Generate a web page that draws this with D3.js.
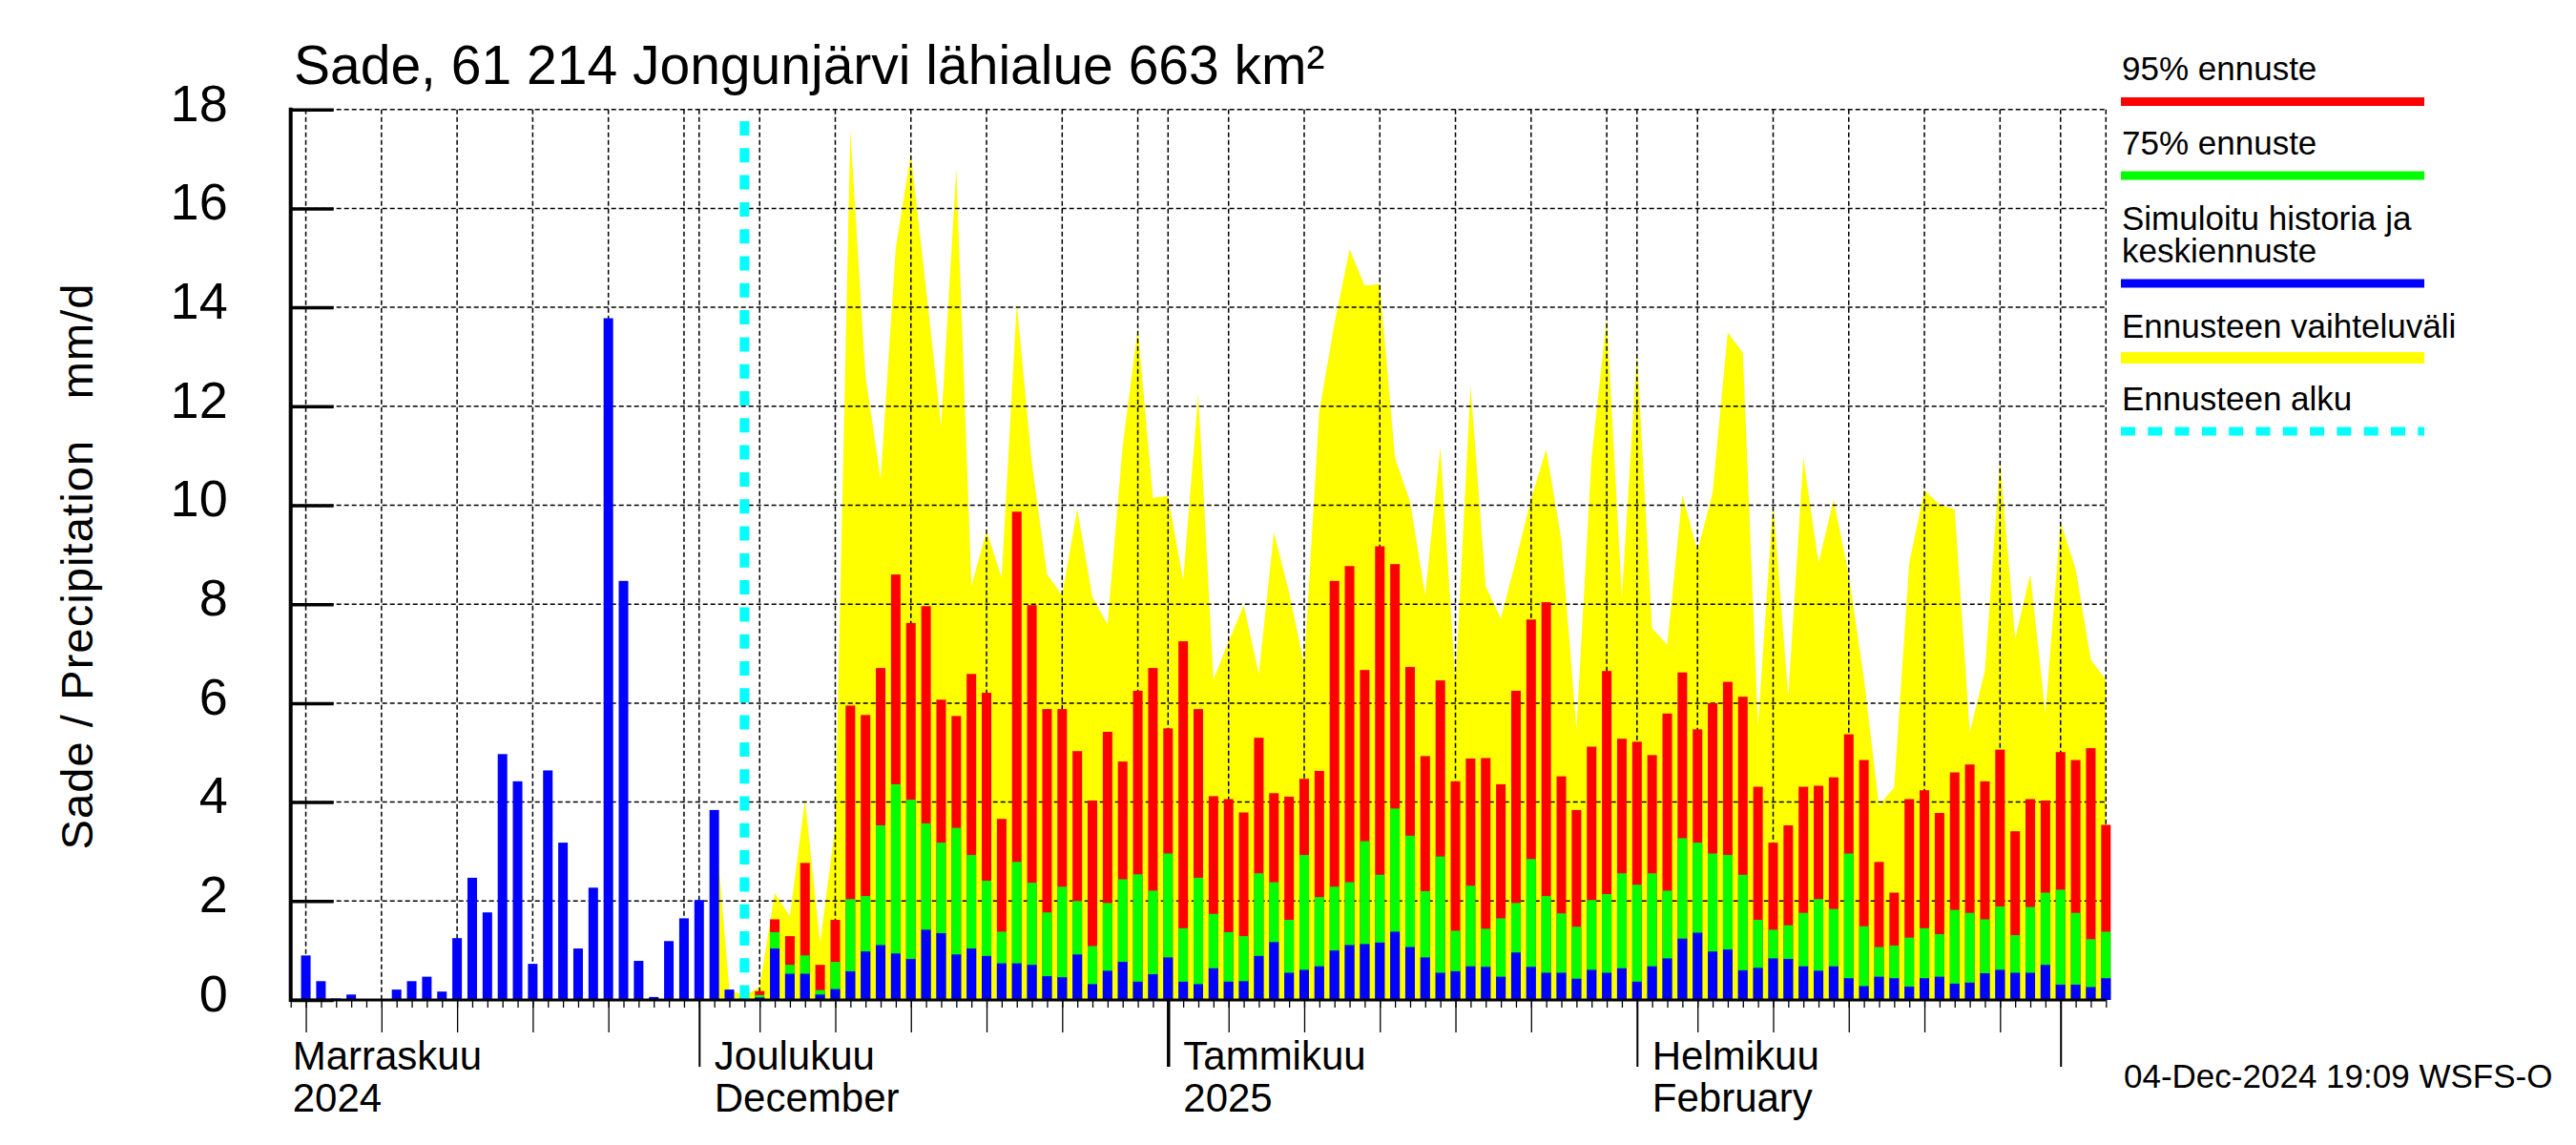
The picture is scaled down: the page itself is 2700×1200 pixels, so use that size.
<!DOCTYPE html>
<html>
<head>
<meta charset="utf-8">
<script src="https://cdn.jsdelivr.net/npm/d3@7"></script>
<style>
  body { margin: 0; background: #fff; }
  text { font-family: "Liberation Sans", Arial, Helvetica, sans-serif; fill: #000; }
</style>
</head>
<body>
<svg id="chart" width="2700" height="1200"></svg>
<script>
// observed (simulated history), one value per day from Nov 5
const histStart = "2024-11-05";
const histValues = [0.90, 0.38, 0.03, 0.11, 0, 0, 0.21, 0.38, 0.47, 0.17, 1.25, 2.47, 1.77, 4.97, 4.42,
    0.73, 4.64, 3.18, 1.04, 2.27, 13.78, 8.47, 0.79, 0.06, 1.19, 1.65, 2.02, 3.84, 0.21, 0.05];

// forecast, one value per day from Dec 5 to Mar 4
const fcStart = "2024-12-05";
const p95 = [].concat(
    [0.18, 1.63, 1.29, 2.77, 0.71, 1.62, 5.95, 5.76, 6.71, 8.60, 7.62, 7.96, 6.07, 5.74, 6.59, 6.21, 3.66, 9.87, 7.98, 5.88, 5.88, 5.03, 4.03, 5.42, 4.82, 6.25, 6.71],
    [5.49, 7.25, 5.88, 4.12, 4.06, 3.79, 5.30, 4.18, 4.11, 4.47, 4.63, 8.47, 8.77, 6.67, 9.17, 8.81, 6.73, 4.93, 6.46, 4.42, 4.88, 4.89, 4.36, 6.25, 7.69, 8.04, 4.52, 3.84, 5.12, 6.65, 5.28],
    [5.22, 4.95, 5.79, 6.62, 5.47, 6.00, 6.43, 6.13, 4.31, 3.18, 3.53, 4.31, 4.33, 4.50, 5.37, 4.85, 2.79, 2.17, 4.06, 4.24, 3.78, 4.60, 4.76, 4.42, 5.06, 3.41, 4.06, 4.03],
    [5.01, 4.85, 5.09, 3.54]);
const p75 = [].concat(
    [0.10, 1.37, 0.71, 0.90, 0.20, 0.77, 2.04, 2.10, 3.53, 4.36, 4.05, 3.57, 3.18, 3.48, 2.93, 2.41, 1.38, 2.79, 2.37, 1.77, 2.29, 2.00, 1.09, 1.96, 2.44, 2.54, 2.21],
    [2.96, 1.45, 2.47, 1.74, 1.37, 1.29, 2.56, 2.38, 1.62, 2.93, 2.08, 2.29, 2.38, 3.21, 2.53, 3.87, 3.32, 2.20, 2.90, 1.40, 2.31, 1.44, 1.65, 1.96, 2.85, 2.10, 1.75, 1.48, 2.02, 2.14, 2.56],
    [2.33, 2.56, 2.21, 3.27, 3.18, 2.96, 2.93, 2.53, 1.62, 1.42, 1.51, 1.76, 2.04, 1.84, 2.96, 1.49, 1.07, 1.10, 1.26, 1.45, 1.33, 1.82, 1.76, 1.63, 1.89, 1.31, 1.88, 2.17],
    [2.23, 1.76, 1.23, 1.38]);
const median = [].concat(
    [0.05, 1.04, 0.53, 0.53, 0.11, 0.22, 0.58, 0.98, 1.11, 0.94, 0.83, 1.42, 1.35, 0.92, 1.04, 0.89, 0.74, 0.74, 0.71, 0.48, 0.46, 0.92, 0.32, 0.59, 0.77, 0.37, 0.52],
    [0.86, 0.37, 0.32, 0.64, 0.37, 0.38, 0.89, 1.17, 0.55, 0.61, 0.68, 1.00, 1.11, 1.13, 1.16, 1.38, 1.07, 0.86, 0.55, 0.58, 0.68, 0.67, 0.47, 0.96, 0.67, 0.55, 0.55, 0.43, 0.61, 0.55, 0.64],
    [0.37, 0.68, 0.84, 1.24, 1.36, 0.98, 1.02, 0.60, 0.65, 0.84, 0.83, 0.68, 0.59, 0.68, 0.44, 0.28, 0.47, 0.44, 0.27, 0.44, 0.47, 0.33, 0.35, 0.54, 0.61, 0.55, 0.55, 0.71],
    [0.31, 0.31, 0.26, 0.44]);

// upper edge of the forecast range, from Dec 2
const rangeStart = "2024-12-02";
const rangeMax = [].concat(
    [3.84, 0.21, 0.08],
    [0.26, 2.16, 1.69, 4.05, 1.16, 3.5, 17.57, 12.6, 10.52, 15.2, 17.10, 14.38, 11.6, 16.8, 8.36, 9.48, 8.54, 14.08, 10.84, 8.6, 8.18, 9.92, 8.15, 7.59, 11.19, 13.58, 10.15],
    [10.19, 8.48, 12.25, 6.47, 7.24, 7.98, 6.59, 9.45, 8.24, 6.77, 11.9, 13.67, 15.17, 14.44, 14.47, 10.96, 10.07, 8.18, 11.17, 6.41, 12.41, 8.36, 7.71, 8.89, 10.13, 11.13, 9.30, 5.47, 10.96, 13.79, 8.15],
    [13.08, 7.51, 7.18, 10.21, 9.07, 10.25, 13.49, 13.08, 5.53, 10.07, 6.12, 10.96, 8.83, 10.11, 8.6, 6.5, 3.93, 4.29, 8.83, 10.31, 10.01, 9.92, 5.41, 6.65, 10.9, 7.3, 8.6, 5.79],
    [9.66, 8.71, 6.88, 6.47]);

const forecastBegin = "2024-12-04";
const yTicks = [0, 2, 4, 6, 8, 10, 12, 14, 16, 18];
const monthStarts = ["2024-11-01", "2024-12-01", "2025-01-01", "2025-02-01"];
const monthFi = ["Marraskuu", "Joulukuu", "Tammikuu", "Helmikuu"];
const monthEn = ["2024", "December", "2025", "February"];
const legendLabels = [["95% ennuste"], ["75% ennuste"], ["Simuloitu historia ja", "keskiennuste"], ["Ennusteen vaihteluväli"], ["Ennusteen alku"]];
const legendColors = ["#ff0000", "#00ff00", "#0000ff", "#ffff00", "#00ffff"];

const parse = d3.utcParse("%Y-%m-%d");
const series = (start, vals) => vals.map((v, i) => ({ date: d3.utcDay.offset(parse(start), i), v: v }));

const hist = series(histStart, histValues);
const fc95 = series(fcStart, p95);
const fc75 = series(fcStart, p75);
const fcMed = series(fcStart, median);
const range = series(rangeStart, rangeMax);

const plotLeft = 304.7, plotRight = 2207.3, plotTop = 114.7, plotBottom = 1048;
const x = d3.scaleUtc()
    .domain([parse("2024-11-04"), parse("2025-03-04")])
    .range([plotLeft, plotRight]);
const y = d3.scaleLinear().domain([0, 18]).range([plotBottom, plotTop]);

const svg = d3.select("#chart");
svg.append("rect").attr("width", 2700).attr("height", 1200).attr("fill", "#fff");

svg.append("defs").append("clipPath").attr("id", "plotclip")
    .append("rect").attr("x", plotLeft).attr("y", 0).attr("width", plotRight - plotLeft).attr("height", plotBottom);

// yellow forecast range
svg.append("path")
    .datum(range)
    .attr("clip-path", "url(#plotclip)")
    .attr("fill", "#ffff00")
    .attr("d", d3.area().x(d => x(d.date)).y0(y(0)).y1(d => y(d.v)));

// dashed grid
const days = d3.utcDay.range(parse("2024-11-04"), parse("2025-03-05"));
const gridDays = days.filter(d => [1, 5, 10, 15, 20, 25, 30].includes(d.getUTCDate()));
gridDays.push(parse("2025-03-04"));

const grid = svg.append("g").attr("stroke", "#000").attr("stroke-width", 1.5).attr("stroke-dasharray", "5,3");
grid.selectAll("line.v").data(gridDays).enter().append("line")
    .attr("x1", d => x(d)).attr("x2", d => x(d))
    .attr("y1", plotTop).attr("y2", plotBottom);
grid.selectAll("line.h").data(yTicks.filter(t => t > 0)).enter().append("line")
    .attr("x1", plotLeft).attr("x2", plotRight)
    .attr("y1", d => y(d)).attr("y2", d => y(d));

// bars
const barW = 10;
function bars(data, color) {
    svg.append("g").selectAll("rect").data(data.filter(d => d.v > 0)).enter().append("rect")
        .attr("x", d => x(d.date) - barW / 2)
        .attr("width", barW)
        .attr("y", d => y(d.v))
        .attr("height", d => y(0) - y(d.v))
        .attr("fill", color);
}
bars(hist, "#0000ff");
bars(fc95, "#ff0000");
bars(fc75, "#00ff00");
bars(fcMed, "#0000ff");

// forecast start
svg.append("line")
    .attr("x1", x(parse(forecastBegin))).attr("x2", x(parse(forecastBegin)))
    .attr("y1", 127).attr("y2", plotBottom)
    .attr("stroke", "#00ffff").attr("stroke-width", 10).attr("stroke-dasharray", "15,13.3");

// y axis, ticks pointing into the plot
const yAxis = d3.axisLeft(y).tickValues(yTicks).tickSizeInner(-45).tickSizeOuter(0).tickPadding(66);
const gy = svg.append("g").attr("transform", `translate(${plotLeft},0)`).call(yAxis);
gy.select(".domain").remove();
gy.selectAll(".tick line").attr("stroke", "#000").attr("stroke-width", 3.5);
gy.selectAll(".tick text")
    .attr("font-size", 54)
    .attr("dy", "0.21em")
    .style("font-family", "'Liberation Sans', Arial, sans-serif");

svg.append("line").attr("x1", plotLeft).attr("x2", plotLeft).attr("y1", plotTop - 2).attr("y2", plotBottom + 2)
    .attr("stroke", "#000").attr("stroke-width", 4);

// x axis ticks: days, every fifth day, months
function xTicks(values, size, width) {
    const g = svg.append("g").attr("transform", `translate(0,${plotBottom})`)
        .call(d3.axisBottom(x).tickValues(values).tickSize(size).tickFormat(""));
    g.select(".domain").remove();
    g.selectAll(".tick line").attr("stroke", "#000").attr("stroke-width", width);
}
xTicks(days, 8, 1.3);
xTicks(days.filter(d => [5, 10, 15, 20, 25].includes(d.getUTCDate())), 34, 1.3);
xTicks(days.filter(d => d.getUTCDate() === 1 && d.getUTCMonth() !== 0), 70, 2);
xTicks(days.filter(d => d.getUTCDate() === 1 && d.getUTCMonth() === 0), 70, 3.5);

svg.append("line").attr("x1", plotLeft).attr("x2", plotRight).attr("y1", plotBottom).attr("y2", plotBottom)
    .attr("stroke", "#000").attr("stroke-width", 3);

monthStarts.forEach((m, i) => {
    const lx = Math.max(x(parse(m)) + 16, plotLeft + 2);
    svg.append("text").attr("x", lx).attr("y", 1120.7).attr("font-size", 42).text(monthFi[i]);
    svg.append("text").attr("x", lx).attr("y", 1165).attr("font-size", 42).text(monthEn[i]);
});

// titles
svg.append("text").attr("x", 308).attr("y", 88).attr("font-size", 57)
    .text("Sade, 61 214 Jongunjärvi lähialue 663 km²");

svg.append("text")
    .attr("transform", "translate(97,594) rotate(-90)")
    .attr("text-anchor", "middle")
    .attr("font-size", 47)
    .attr("textLength", 593)
    .attr("lengthAdjust", "spacing")
    .style("white-space", "pre")
    .text("Sade / Precipitation   mm/d");

// legend
const legendText = [84, 162, 241, 353.5, 430];
const legendLine = [106.5, 184, 297, 375, 452];
legendLabels.forEach((lines, i) => {
    lines.forEach((t, j) => {
        svg.append("text").attr("x", 2224).attr("y", legendText[i] + j * 34.4)
            .attr("font-size", 35).text(t);
    });
    svg.append("line")
        .attr("x1", 2223).attr("x2", 2541)
        .attr("y1", legendLine[i]).attr("y2", legendLine[i])
        .attr("stroke", legendColors[i])
        .attr("stroke-width", i === 3 ? 12 : 9)
        .attr("stroke-dasharray", i === 4 ? "15,13.3" : null);
});

svg.append("text").attr("x", 2226).attr("y", 1140).attr("font-size", 35)
    .text("04-Dec-2024 19:09 WSFS-O");
</script>
</body>
</html>
